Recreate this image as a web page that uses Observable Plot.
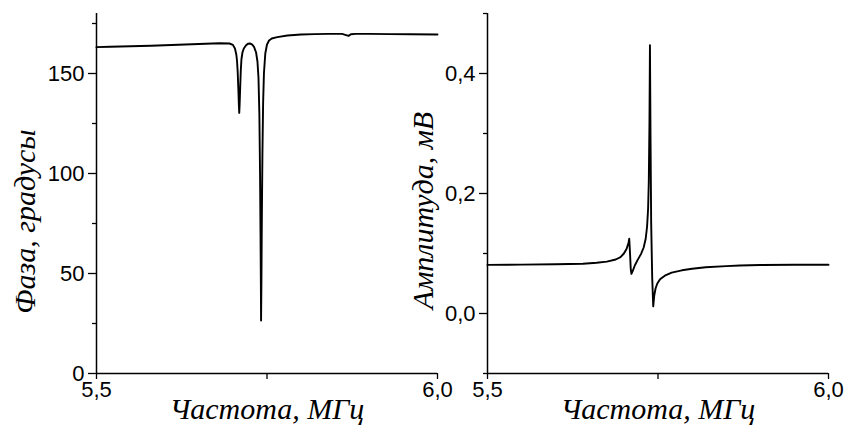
<!DOCTYPE html>
<html>
<head>
<meta charset="utf-8">
<script src="https://cdn.jsdelivr.net/npm/d3@7"></script>
<script src="https://cdn.jsdelivr.net/npm/@observablehq/plot@0.6"></script>
<style>
  html, body { margin: 0; padding: 0; background: white; }
  #wrap { position: relative; width: 845px; height: 426px; }
  #wrap svg { position: absolute; left: 0; top: 0; }
</style>
</head>
<body>
<div id="wrap"></div>
<script>
// Left panel: phase (degrees) vs frequency (MHz)
const phaseFreq = [5.500, 5.520, 5.550, 5.580, 5.600, 5.630, 5.660, 5.680, 5.695, 5.700, 5.703, 5.705, 5.706, 5.707, 5.708, 5.7088, 5.7093, 5.7098, 5.7106, 5.7115, 5.7125, 5.714, 5.716, 5.719, 5.722, 5.725, 5.728, 5.731, 5.734, 5.736, 5.7375, 5.7388, 5.7398, 5.7405, 5.741, 5.7413, 5.7418, 5.7425, 5.7433, 5.7443, 5.7455, 5.7475, 5.750, 5.753, 5.757, 5.765, 5.780, 5.800, 5.820, 5.840, 5.860, 5.866, 5.8695, 5.873, 5.880, 5.900, 5.930, 5.960, 6.000];
const phaseDeg = [163.2, 163.4, 163.6, 163.9, 164.1, 164.5, 164.9, 165.1, 165.0, 164.3, 162.5, 159.5, 156.5, 151, 142, 134, 130.3, 134, 142, 151, 157, 160.5, 162.5, 164, 164.9, 165.0, 164.6, 163.3, 160.5, 156, 148, 130, 100, 70, 45, 26.5, 45, 80, 110, 135, 150, 160, 164.5, 166.5, 167.5, 168.2, 169.0, 169.5, 169.7, 169.8, 169.8, 169.2, 168.8, 169.6, 169.8, 169.8, 169.7, 169.6, 169.5];
const phaseTicks = [0, 50, 100, 150];
const phaseMinorTicks = [25, 75, 125, 175];

// Right panel: amplitude (mV) vs frequency (MHz)
const ampFreq = [5.500, 5.550, 5.600, 5.640, 5.660, 5.675, 5.688, 5.695, 5.700, 5.704, 5.7068, 5.7078, 5.709, 5.710, 5.711, 5.713, 5.716, 5.720, 5.725, 5.729, 5.732, 5.734, 5.7355, 5.7365, 5.7375, 5.7382, 5.739, 5.740, 5.7415, 5.743, 5.7445, 5.7465, 5.749, 5.753, 5.760, 5.770, 5.785, 5.800, 5.820, 5.850, 5.870, 5.900, 5.950, 6.000];
const ampMV = [0.081, 0.0815, 0.082, 0.083, 0.0845, 0.0865, 0.090, 0.094, 0.100, 0.108, 0.118, 0.1245, 0.100, 0.075, 0.066, 0.071, 0.080, 0.089, 0.099, 0.110, 0.125, 0.145, 0.175, 0.220, 0.320, 0.447, 0.300, 0.150, 0.060, 0.012, 0.030, 0.042, 0.050, 0.057, 0.063, 0.068, 0.072, 0.0745, 0.077, 0.079, 0.080, 0.0808, 0.0812, 0.0812];
const ampTicks = [0.0, 0.2, 0.4];
const ampMinorTicks = [-0.1, 0.1, 0.3, 0.5];

// Shared x ticks
const freqTicks = [5.5, 6.0];
const freqMidTicks = [5.75];
const xTitle = "Частота, МГц";
const phaseTitle = "Фаза, градусы";
const ampTitle = "Амплитуда, мВ";

const comma1 = d => d.toFixed(1).replace(".", ",");
const tickFont = "'Liberation Sans', Arial, sans-serif";
const titleFont = "'Liberation Serif', 'Times New Roman', serif";

function panel({freq, vals, yDomain, yTicks, yMinor, yFormat, yTitle, marginLeft, marginRight, yTitleDx, yTitleDy}) {
  const rows = freq.map((f, i) => ({f, v: vals[i]}));
  return Plot.plot({
    width: 845,
    height: 426,
    marginLeft, marginRight,
    marginTop: 13,
    marginBottom: 53,
    style: {background: "transparent", fontFamily: tickFont, color: "black", overflow: "visible"},
    x: {domain: [5.5, 6.0]},
    y: {domain: yDomain},
    marks: [
      Plot.axisY(yTicks, {tickSize: 8, tickPadding: 4, tickFormat: yFormat, fontSize: 22, label: null, strokeWidth: 1.3}),
      Plot.axisY(yMinor, {tickSize: 4, tickFormat: () => "", label: null, strokeWidth: 1.3}),
      Plot.axisX(freqTicks, {tickSize: 6, tickPadding: 2, tickFormat: comma1, fontSize: 22, label: null, strokeWidth: 1.3}),
      Plot.axisX(freqMidTicks, {tickSize: 6, tickFormat: () => "", label: null, strokeWidth: 1.3}),
      Plot.ruleX([yDomain[0]].map(() => 5.5), {stroke: "black", strokeWidth: 1.5}),
      Plot.ruleY([yDomain[0]], {stroke: "black", strokeWidth: 1.5}),
      Plot.line(rows, {x: "f", y: "v", stroke: "black", strokeWidth: 1.9}),
      Plot.text([xTitle], {frameAnchor: "bottom", dy: 45, fontFamily: titleFont, fontStyle: "italic", fontSize: 30, fill: "black"}),
      Plot.text([yTitle], {frameAnchor: "left", textAnchor: "middle", rotate: -90, dx: yTitleDx, dy: yTitleDy, fontFamily: titleFont, fontStyle: "italic", fontSize: 30, fill: "black"})
    ]
  });
}

const wrap = document.getElementById("wrap");
wrap.appendChild(panel({
  freq: phaseFreq, vals: phaseDeg, yDomain: [0, 180], yTicks: phaseTicks, yMinor: phaseMinorTicks,
  yFormat: d => String(d), yTitle: phaseTitle, marginLeft: 96, marginRight: 408, yTitleDx: -71, yTitleDy: 28
}));
wrap.appendChild(panel({
  freq: ampFreq, vals: ampMV, yDomain: [-0.1, 0.5], yTicks: ampTicks, yMinor: ampMinorTicks,
  yFormat: comma1, yTitle: ampTitle, marginLeft: 487, marginRight: 17, yTitleDx: -64, yTitleDy: 17
}));
</script>
</body>
</html>
